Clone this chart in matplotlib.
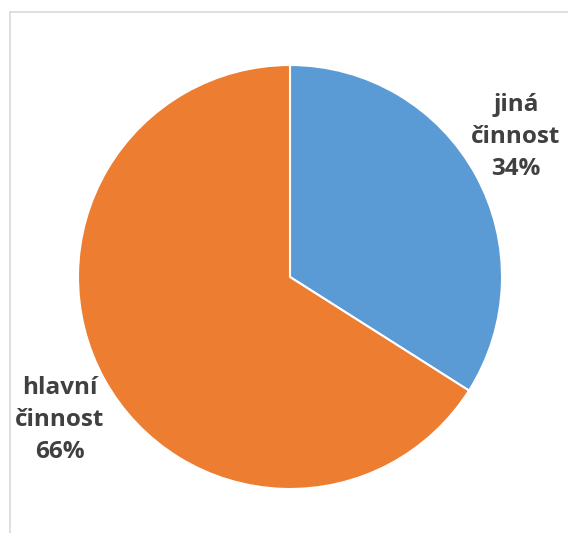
import matplotlib.pyplot as plt

labels = ['jiná\nčinnost', 'hlavní\nčinnost']
shares = [34, 66]
colors = ['#5B9BD5', '#ED7D31']

W, H = 568, 533
fig = plt.figure(figsize=(W / 100, H / 100), dpi=100)
ax = fig.add_axes([0, 0, 1, 1])

cx, cy, r = 290, H - 277, 212
ax.pie(shares, colors=colors, startangle=90, counterclock=False,
       center=(cx, cy), radius=r, frame=True,
       wedgeprops=dict(edgecolor='white', linewidth=1.5))
ax.set_xlim(0, W)
ax.set_ylim(0, H)
ax.set_aspect('equal')
ax.axis('off')

# labels placed outside the pie like the original
label_pos = [(516, H - 137), (60, H - 420)]
for lab, s, (x, y) in zip(labels, shares, label_pos):
    ax.text(x, y, f'{lab}\n{s}%', ha='center', va='center',
            fontsize=17.5, fontweight='bold', family='Open Sans',
            color='#404040', linespacing=1.45)

# light frame at top and left
fig.add_artist(plt.Line2D([10 / W, 1], [1 - 12 / H, 1 - 12 / H],
                          color='#d9d9d9', lw=1.2))
fig.add_artist(plt.Line2D([10 / W, 10 / W], [0, 1 - 12 / H],
                          color='#d9d9d9', lw=1.2))

fig.savefig('out.png', dpi=100)
